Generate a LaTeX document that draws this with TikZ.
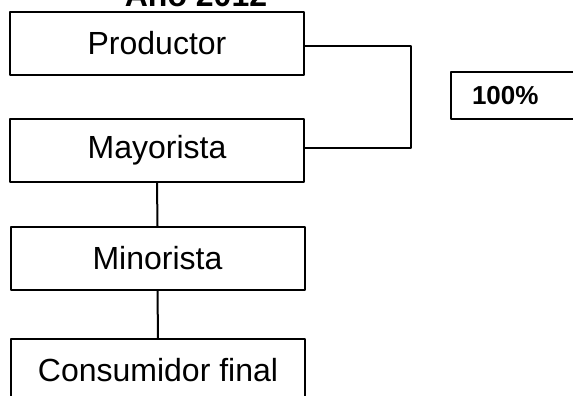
\documentclass[tikz,border=0pt]{standalone}
\usepackage{fontspec}
\setmainfont{Liberation Sans}
\begin{document}
\begin{tikzpicture}[x=0.5pt, y=-0.5pt, line join=round, line width=1pt]
 \tikzset{caja/.style={draw, minimum width=147pt, minimum height=31.5pt, inner sep=0pt, font=\fontsize{16}{19}\selectfont}}
 \useasboundingbox (0,0) rectangle (573,396);
 \clip (0,0) rectangle (573,396);
 \node[anchor=base, inner sep=0pt, font=\fontsize{16}{19}\selectfont\bfseries] (titulo) at (196,6) {Año 2012};
 \node[caja] (prod) at (157,43) {Productor};
 \node[caja] (may) at (157,150) {Mayorista};
 \node[caja] (mino) at (157.5,258.5) {Minorista};
 \node[caja] (cons) at (158,370.5) {Consumidor final};
 \node[draw, anchor=west, inner xsep=10.5pt, inner ysep=0pt, text width=80pt, align=left, minimum height=23.5pt, font=\fontsize{13}{15}\selectfont\bfseries] (pct) at (450,95.5) {100\%};
 \draw ([yshift=-1.5pt]prod.east) -- ++(106,0) |- ([yshift=1pt]may.east);
 \draw (may.south) -- (mino.north);
 \draw (mino.south) -- (cons.north);
\end{tikzpicture}
\end{document}
